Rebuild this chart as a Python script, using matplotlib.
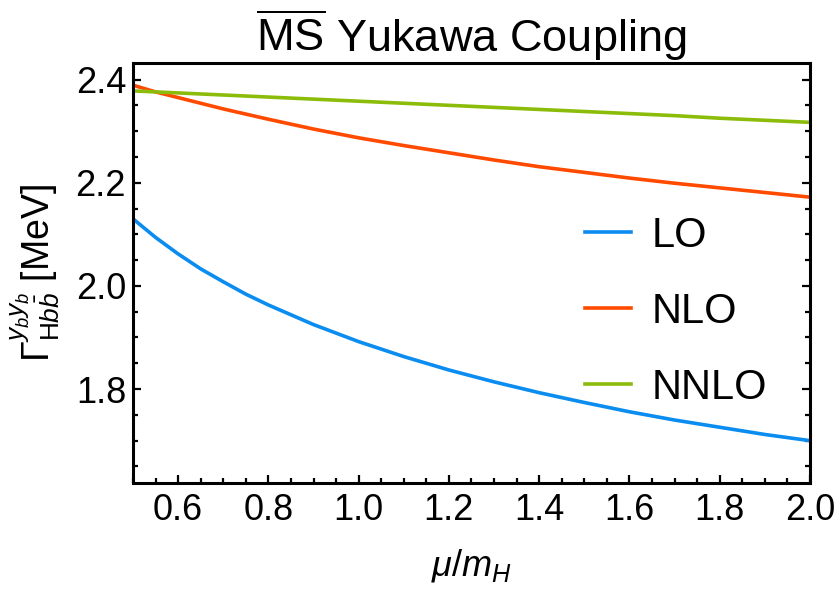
import matplotlib
matplotlib.use('Agg')
import matplotlib.pyplot as plt
from matplotlib.ticker import MultipleLocator

plt.rcParams['font.family'] = ['Liberation Sans', 'DejaVu Sans']
plt.rcParams['mathtext.fontset'] = 'custom'
plt.rcParams['mathtext.rm'] = 'Liberation Sans'
plt.rcParams['mathtext.it'] = 'Liberation Sans:italic'
plt.rcParams['mathtext.bf'] = 'Liberation Sans:bold'

# mu / m_H
mu = [0.5, 0.55, 0.6, 0.65, 0.7, 0.75, 0.8, 0.9, 1.0, 1.1, 1.2, 1.3, 1.4, 1.5, 1.6, 1.7, 1.8, 1.9, 2.0]
# Gamma en MeV
lo = [2.130, 2.094, 2.062, 2.033, 2.008, 1.984, 1.963, 1.925, 1.892, 1.863, 1.837,
      1.814, 1.793, 1.774, 1.756, 1.740, 1.726, 1.712, 1.700]
nlo = [2.389, 2.376, 2.365, 2.354, 2.343, 2.333, 2.323, 2.304, 2.287, 2.272, 2.258,
       2.244, 2.231, 2.220, 2.209, 2.199, 2.190, 2.181, 2.172]
nnlo = [2.378, 2.376, 2.374, 2.372, 2.370, 2.368, 2.366, 2.362, 2.358, 2.354, 2.350,
        2.346, 2.342, 2.338, 2.334, 2.330, 2.325, 2.321, 2.317]

fig = plt.figure(figsize=(8.39, 5.9), dpi=100)
ax = fig.add_axes([0.1585, 0.1814, 0.8069, 0.7118])

ax.plot(mu, lo, color='#0a8cf0', lw=2.6, label='LO')
ax.plot(mu, nlo, color='#ff4a00', lw=2.6, label='NLO')
ax.plot(mu, nnlo, color='#8cbc0a', lw=2.6, label='NNLO')

ax.set_xlim(0.5, 2.0)
ax.set_ylim(1.618, 2.432)

ax.xaxis.set_major_locator(MultipleLocator(0.2))
ax.xaxis.set_minor_locator(MultipleLocator(0.05))
ax.yaxis.set_major_locator(MultipleLocator(0.2))
ax.yaxis.set_minor_locator(MultipleLocator(0.05))
ax.xaxis.set_major_formatter(plt.FuncFormatter(lambda v, p: f'{v:.1f}'))
ax.yaxis.set_major_formatter(plt.FuncFormatter(lambda v, p: f'{v:.1f}'))

ax.tick_params(which='both', direction='in', left=True, right=True, bottom=True, top=False,
               width=1.6, labelsize=26)
ax.tick_params(axis='x', which='major', pad=7)
ax.tick_params(axis='y', which='major', pad=5)
ax.tick_params(which='major', length=6)
ax.tick_params(which='minor', length=3.5)
for s in ax.spines.values():
    s.set_linewidth(2.2)

ax.set_title(r'$\overline{\mathrm{MS}}$ Yukawa Coupling', fontsize=32.5, pad=8)
ax.set_xlabel(r'$\mu/m_H$', fontsize=26, labelpad=14)
ax.set_ylabel(r'$\Gamma^{y_b y_b}_{\mathrm{H}b\bar{b}}$ [MeV]', fontsize=27, labelpad=10)

ax.legend(loc='upper left', bbox_to_anchor=(0.613, 0.726), frameon=False, fontsize=30,
          handlelength=1.1, handletextpad=0.48, labelspacing=0.87)

plt.savefig('out.png', dpi=100)
